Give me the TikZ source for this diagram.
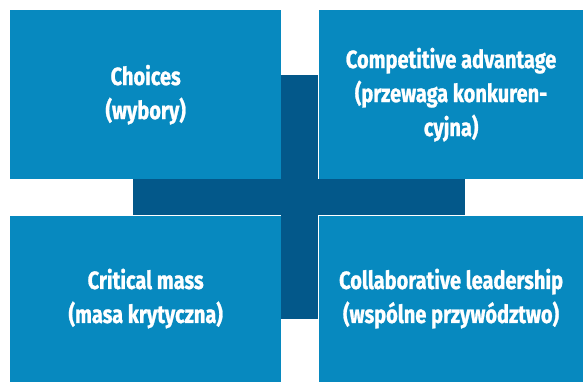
\documentclass[tikz,border=0pt]{standalone}
\usepackage{fontspec}
\newfontfamily\boxfont{Fira Sans}[FakeStretch=0.8, BoldFeatures={FakeBold=1}]
\usetikzlibrary{positioning}
\definecolor{boxblue}{HTML}{0789BF}
\definecolor{crossblue}{HTML}{03588A}

\begin{document}
\begin{tikzpicture}[
  x=1pt, y=1pt,
  node distance=36pt and 37pt,
  box/.style={rectangle, fill=boxblue, text=white, inner sep=0pt,
              minimum width=271pt, minimum height=169pt,
              font=\boxfont\bfseries\fontsize{25}{34}\selectfont, align=center},
  wbox/.style={box, minimum width=265pt},
  bar/.style={rectangle, fill=crossblue, inner sep=0pt}
]
\useasboundingbox (0,0) rectangle (583,381);
% cross behind the four boxes
\node[bar, anchor=south west, minimum width=37pt, minimum height=244pt] (vbar) at (281,62) {};
\node[bar, anchor=south west, minimum width=332pt, minimum height=36pt] (hbar) at (133,166) {};

\node[box, anchor=north west] (choices) at (10,371) {Choices\\(wybory)};
\node[wbox, right=of choices] (advantage) {Competitive advantage\\(przewaga konkuren-\\cyjna)};
\node[box, below=of choices, minimum height=166pt] (mass) {Critical mass\\(masa krytyczna)};
\node[wbox, below=of advantage, minimum height=166pt] (leadership) {Collaborative leadership\\(wspólne przywództwo)};
\end{tikzpicture}
\end{document}
